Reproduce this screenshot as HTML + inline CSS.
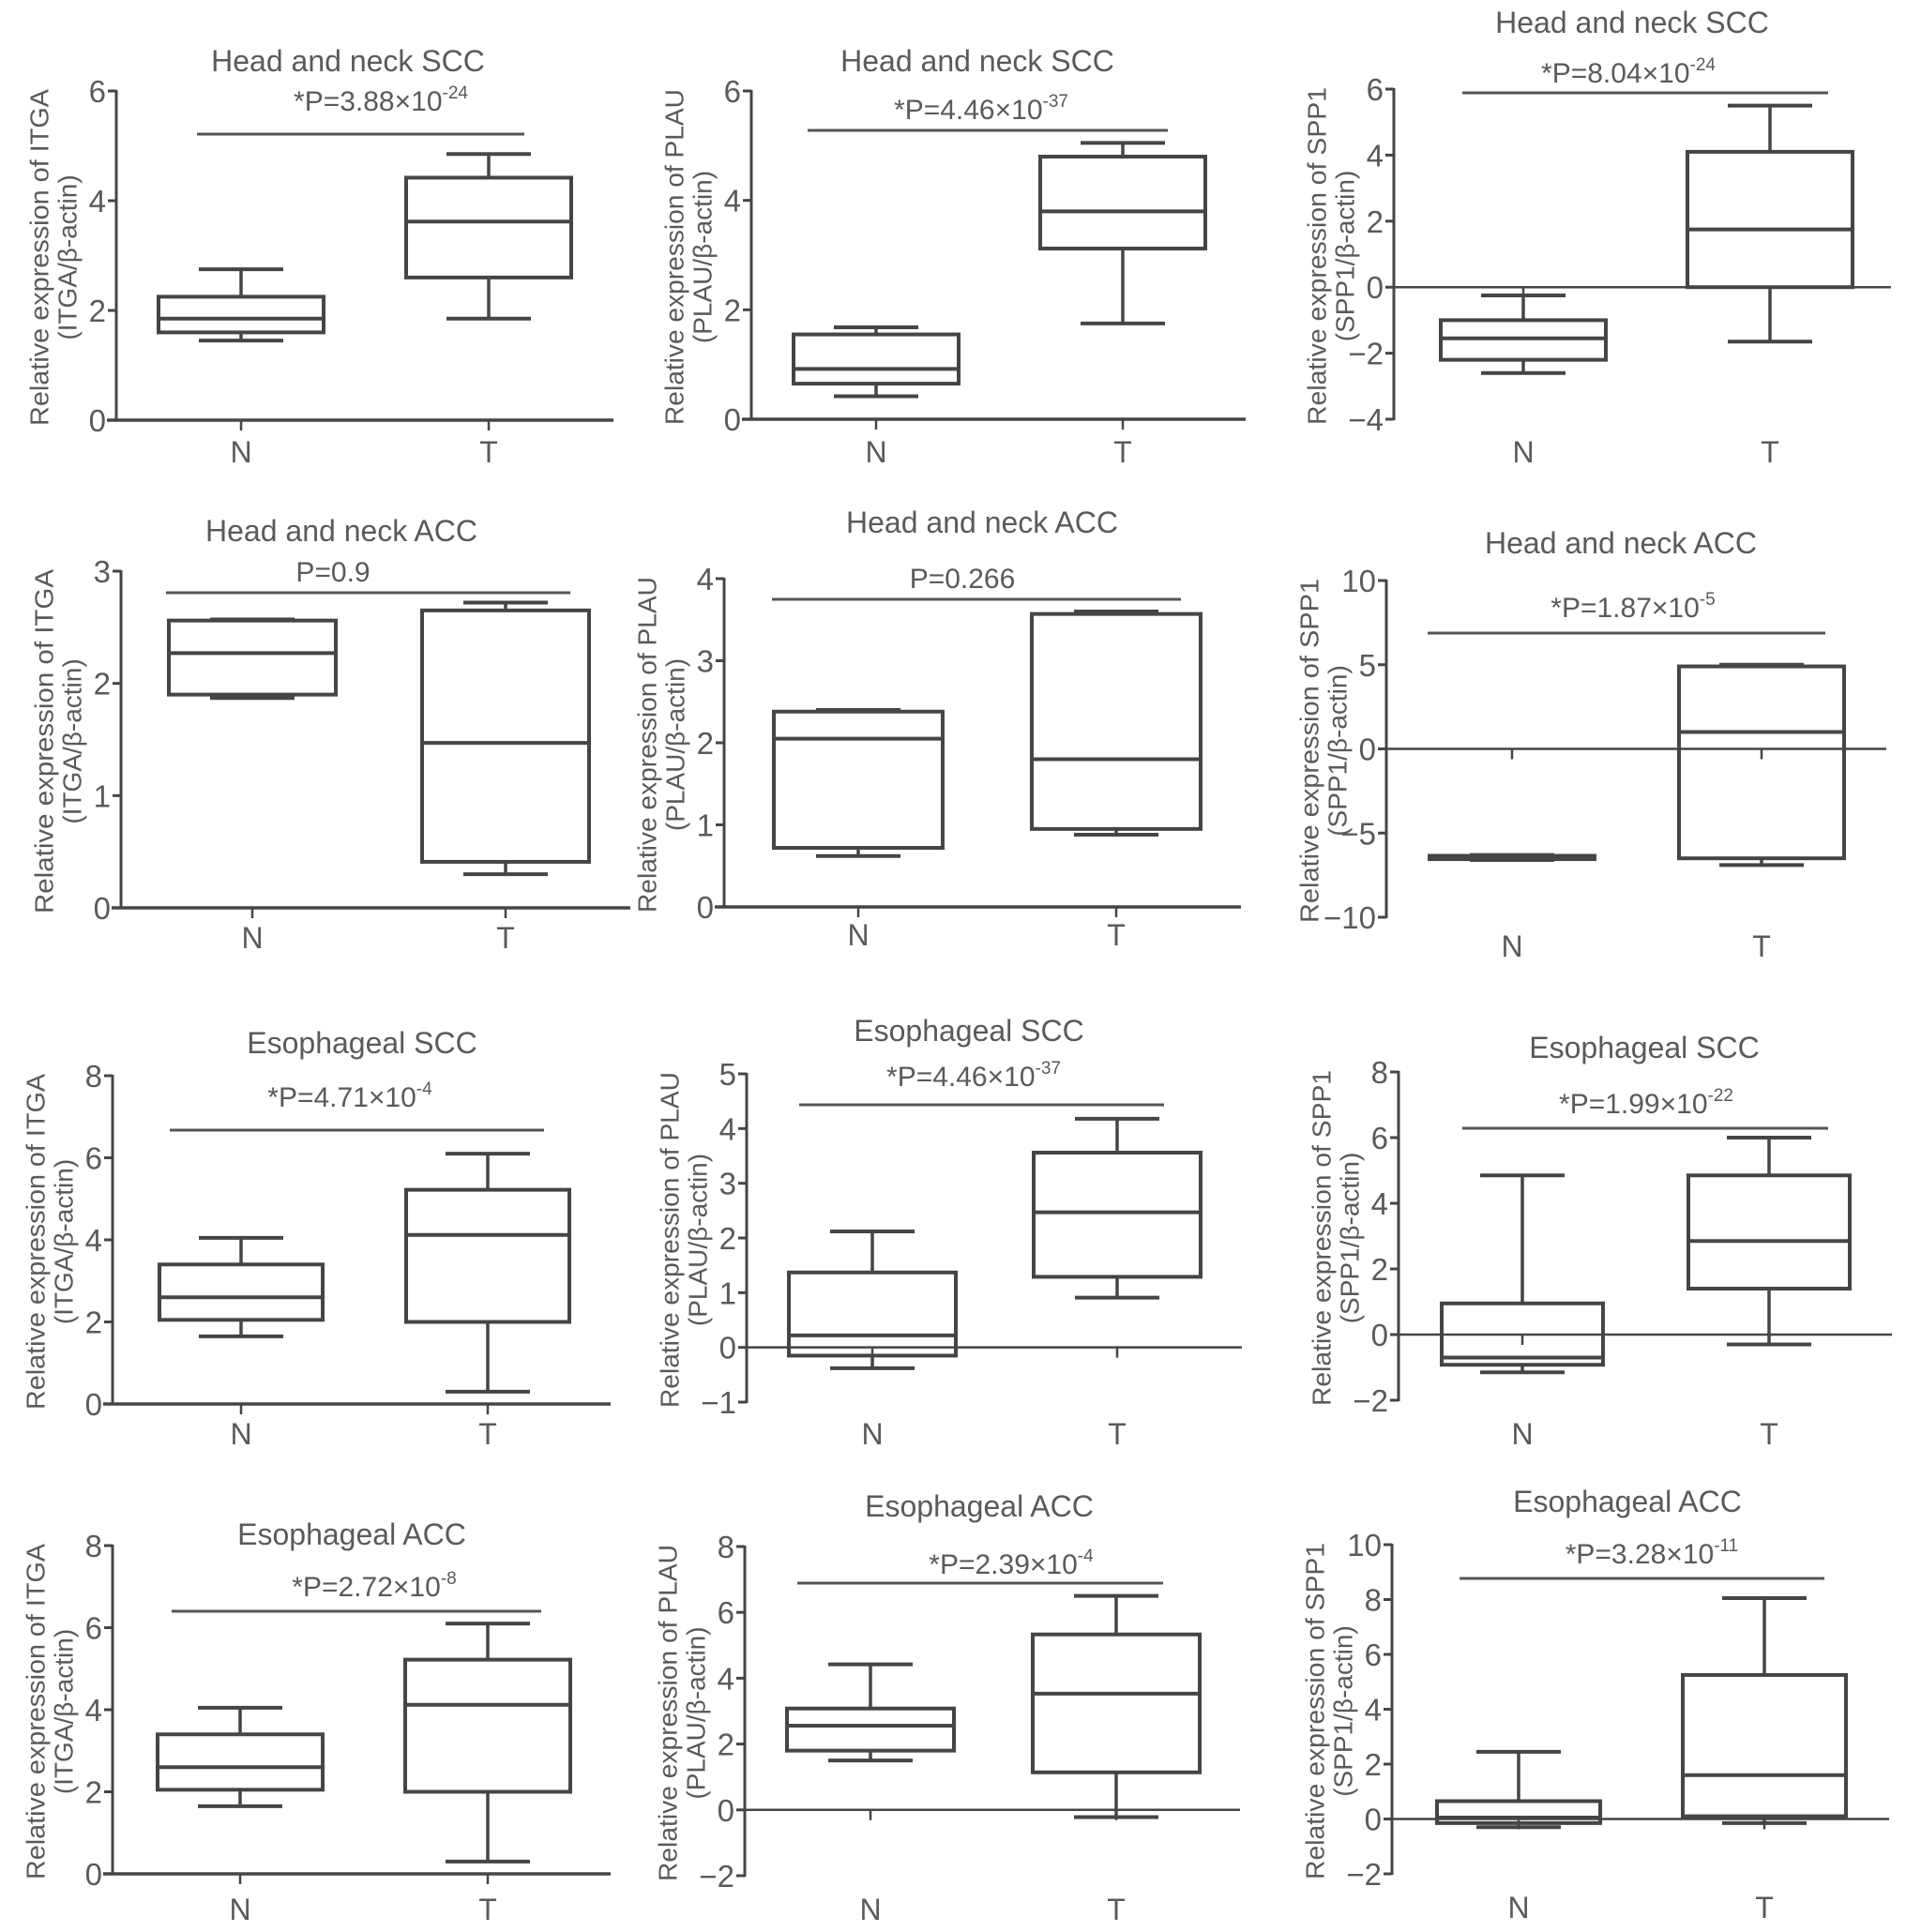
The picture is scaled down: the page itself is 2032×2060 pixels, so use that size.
<!DOCTYPE html>
<html><head><meta charset="utf-8"><style>
html,body{margin:0;padding:0;background:#fff;}
svg{display:block;}
</style></head><body>
<svg id="fig" xmlns="http://www.w3.org/2000/svg" width="2032" height="2060" viewBox="0 0 2032 2060" font-family="'Liberation Sans', Arial, sans-serif"></svg>
<script>
// ---- data ----
const categories = ["N", "T"];
const titles = ["Head and neck SCC","Head and neck SCC","Head and neck SCC",
  "Head and neck ACC","Head and neck ACC","Head and neck ACC",
  "Esophageal SCC","Esophageal SCC","Esophageal SCC",
  "Esophageal ACC","Esophageal ACC","Esophageal ACC"];
const genes = ["ITGA","PLAU","SPP1"];
const pMain = ["*P=3.88×10","*P=4.46×10","*P=8.04×10","P=0.9","P=0.266","*P=1.87×10",
  "*P=4.71×10","*P=4.46×10","*P=1.99×10","*P=2.72×10","*P=2.39×10","*P=3.28×10"];
const pExp = ["-24","-37","-24","","","-5","-4","-37","-22","-8","-4","-11"];
// [min, q1, median, q3, max]
const nStats = [
  [1.45,1.6,1.85,2.25,2.75],
  [0.42,0.65,0.92,1.55,1.68],
  [-2.6,-2.2,-1.55,-1.0,-0.25],
  [1.87,1.9,2.27,2.56,2.57],
  [0.62,0.72,2.05,2.38,2.4],
  [-6.6,-6.55,-6.45,-6.35,-6.3],
  [1.65,2.05,2.6,3.4,4.05],
  [-0.38,-0.15,0.22,1.37,2.12],
  [-1.15,-0.92,-0.7,0.95,4.85],
  [1.65,2.05,2.6,3.4,4.05],
  [1.5,1.8,2.56,3.08,4.42],
  [-0.3,-0.15,0.05,0.65,2.45]
];
const tStats = [
  [1.85,2.6,3.62,4.42,4.85],
  [1.75,3.12,3.8,4.8,5.05],
  [-1.65,0,1.75,4.1,5.5],
  [0.3,0.41,1.47,2.65,2.72],
  [0.88,0.95,1.8,3.57,3.6],
  [-6.9,-6.5,1.0,4.9,5.0],
  [0.3,2.0,4.12,5.22,6.1],
  [0.91,1.29,2.47,3.56,4.18],
  [-0.3,1.4,2.85,4.85,6.0],
  [0.3,2.0,4.12,5.22,6.1],
  [-0.22,1.14,3.53,5.33,6.5],
  [-0.15,0.1,1.6,5.25,8.05]
];
const yMin = [0,0,-4, 0,0,-10, 0,-1,-2, 0,-2,-2];
const yMax = [6,6,6, 3,4,10, 8,5,8, 8,8,10];
const yTicks = [[0,2,4,6],[0,2,4,6],[-4,-2,0,2,4,6],
  [0,1,2,3],[0,1,2,3,4],[-10,-5,0,5,10],
  [0,2,4,6,8],[-1,0,1,2,3,4,5],[-2,0,2,4,6,8],
  [0,2,4,6,8],[-2,0,2,4,6,8],[-2,0,2,4,6,8,10]];

// ---- layout (pixels) ----
const L = [
 {ax:124,top:97,bot:448,xN:257,xT:521,hw:88,xEnd:654,tx:371,ty:76,px:406,py:118,sy:143,s1:210,s2:559,lab:493},
 {ax:801,top:97,bot:447,xN:934,xT:1197,hw:88,xEnd:1328,tx:1042,ty:76,px:1046,py:127,sy:139,s1:861,s2:1245,lab:493},
 {ax:1486,top:95,bot:447,xN:1624,xT:1887,hw:88,xEnd:2016,tx:1740,ty:35,px:1736,py:88,sy:99,s1:1559,s2:1949,lab:493},
 {ax:129,top:609,bot:968,xN:269,xT:539,hw:89,xEnd:672,tx:364,ty:577,px:355,py:620,sy:632,s1:177,s2:608,lab:1011},
 {ax:772,top:617,bot:967,xN:915,xT:1190,hw:90,xEnd:1323,tx:1047,ty:568,px:1026,py:627,sy:639,s1:823,s2:1259,lab:1008},
 {ax:1478,top:619,bot:978,xN:1612,xT:1878,hw:88,xEnd:2011,tx:1728,ty:590,px:1741,py:658,sy:675,s1:1522,s2:1946,lab:1020},
 {ax:120,top:1147,bot:1497,xN:257,xT:520,hw:87,xEnd:651,tx:386,ty:1123,px:373,py:1180,sy:1205,s1:181,s2:580,lab:1540},
 {ax:796,top:1145,bot:1495,xN:930,xT:1191,hw:89,xEnd:1324,tx:1033,ty:1110,px:1038,py:1158,sy:1178,s1:852,s2:1241,lab:1540},
 {ax:1491,top:1143,bot:1493,xN:1623,xT:1886,hw:86,xEnd:2017,tx:1753,ty:1128,px:1755,py:1187,sy:1203,s1:1559,s2:1949,lab:1540},
 {ax:120,top:1648,bot:1998,xN:256,xT:520,hw:88,xEnd:651,tx:375,ty:1647,px:399,py:1702,sy:1718,s1:183,s2:577,lab:2047},
 {ax:794,top:1649,bot:2000,xN:928,xT:1190,hw:89,xEnd:1322,tx:1044,ty:1617,px:1078,py:1678,sy:1688,s1:850,s2:1240,lab:2047},
 {ax:1484,top:1647,bot:1998,xN:1619,xT:1881,hw:87,xEnd:2014,tx:1735,ty:1612,px:1761,py:1667,sy:1683,s1:1556,s2:1945,lab:2045}
];

const NS = "http://www.w3.org/2000/svg";
const svg = document.getElementById("fig");
const LINE = "#454545", TXT = "#5a5a5a";
function mk(tag, attrs, parent){
  const e = document.createElementNS(NS, tag);
  for (const k in attrs) e.setAttribute(k, attrs[k]);
  parent.appendChild(e); return e;
}
function line(p, x1,y1,x2,y2,w,c){ return mk("line",{x1:x1,y1:y1,x2:x2,y2:y2,stroke:c||LINE,"stroke-width":w||3.5},p); }

for (let i=0;i<12;i++){
  const l = L[i];
  const yScale = v => l.bot - (v - yMin[i])/(yMax[i]-yMin[i])*(l.bot-l.top);
  const g = mk("g",{},svg);
  
  

  const t = mk("text",{x:l.tx,y:l.ty,"text-anchor":"middle","font-size":32,fill:TXT},g);
  
  
  t.textContent = titles[i];

  const ya = line(g, l.ax, l.top-1, l.ax, l.bot+1, 3);
  
  
  yTicks[i].forEach(v=>{
    const y = yScale(v);
    line(g, l.ax-9, y, l.ax, y, 3);
    const tl = mk("text",{x:l.ax-11,y:y+12,"text-anchor":"end","font-size":33,fill:TXT},g);
    
    
    tl.textContent = v < 0 ? "−" + Math.abs(v) : String(v);
  });

  const y0 = yScale(Math.max(0, yMin[i]));
  const xa = line(g, yMin[i] < 0 ? l.ax : l.ax-10, y0, l.xEnd, y0, yMin[i] < 0 ? 2.5 : 3.5);
  
  

  const midY = (l.top + l.bot)/2 + 2;
  const yl1 = mk("text",{x:0,y:0,"text-anchor":"middle","font-size":28,fill:TXT,
    textLength:(l.bot-l.top)+8, lengthAdjust:"spacingAndGlyphs",
    transform:`translate(${l.ax-82},${midY}) rotate(-90)`,"dominant-baseline":"central"},g);
  
  
  yl1.textContent = "Relative expression of " + genes[i%3];
  const yl2 = mk("text",{x:0,y:0,"text-anchor":"middle","font-size":28,fill:TXT,
    transform:`translate(${l.ax-52},${midY}) rotate(-90)`,"dominant-baseline":"central"},g);
  
  
  yl2.textContent = "(" + genes[i%3] + "/β-actin)";

  const sl = line(g, l.s1, l.sy, l.s2, l.sy, 3, "#555");
  
  
  const pt = mk("text",{x:l.px,y:l.py,"text-anchor":"middle","font-size":30,fill:TXT},g);
  
  
  pt.appendChild(document.createTextNode(pMain[i]));
  if (pExp[i]) {
    const sp = mk("tspan",{dy:-13,"font-size":19},pt);
    sp.textContent = pExp[i];
  }

  [nStats[i], tStats[i]].forEach((s, k)=>{
    const xc = k===0 ? l.xN : l.xT;
    const bg = mk("g",{},g);
    
    
    line(bg, xc, y0, xc, y0+11, 2.5);
    const cap = 45;
    line(bg, xc, yScale(s[0]), xc, yScale(s[1]), 3.5);
    line(bg, xc, yScale(s[3]), xc, yScale(s[4]), 3.5);
    line(bg, xc-cap, yScale(s[0]), xc+cap, yScale(s[0]), 4);
    line(bg, xc-cap, yScale(s[4]), xc+cap, yScale(s[4]), 4);
    const yq3 = yScale(s[3]), yq1 = yScale(s[1]);
    mk("rect",{x:xc-l.hw,y:yq3,width:2*l.hw,height:Math.max(1,yq1-yq3),fill:"none",stroke:LINE,"stroke-width":4},bg);
    line(bg, xc-l.hw, yScale(s[2]), xc+l.hw, yScale(s[2]), 4);
    const cl = mk("text",{x:xc,y:l.lab,"text-anchor":"middle","font-size":32,fill:TXT},g);
    
    
    cl.textContent = categories[k];
  });
}
</script>
</body></html>
